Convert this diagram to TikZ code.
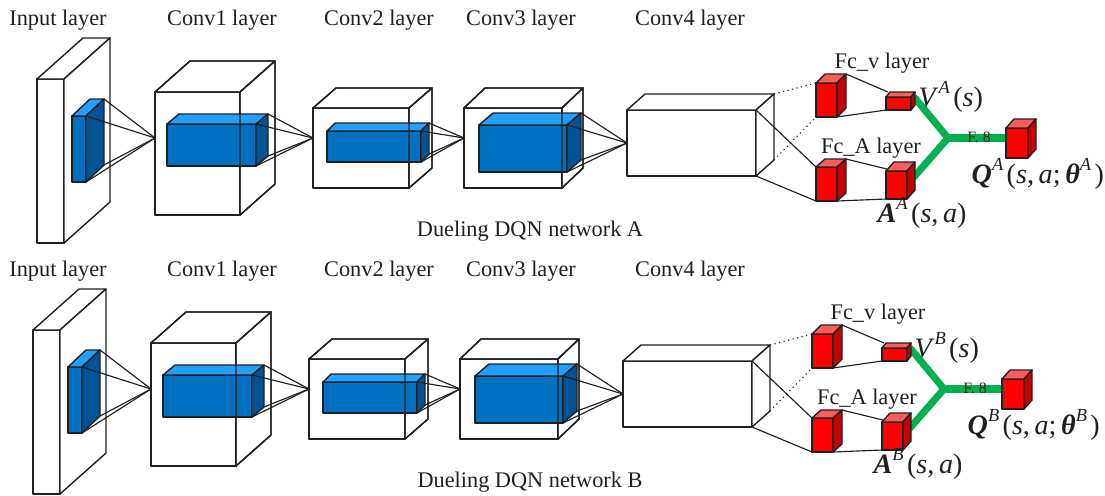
\documentclass[tikz,border=0pt]{standalone}
\usepackage{fontspec}
\setmainfont{Liberation Serif}
\usetikzlibrary{calc}
\definecolor{ink}{RGB}{35,31,32}
\definecolor{whiteF}{RGB}{255,255,255}
\definecolor{whiteT}{RGB}{255,255,255}
\definecolor{whiteS}{RGB}{255,255,255}
\definecolor{blueF}{RGB}{0,112,192}
\definecolor{blueT}{RGB}{34,160,255}
\definecolor{blueS}{RGB}{0,84,150}
\definecolor{redF}{RGB}{255,0,0}
\definecolor{redT}{RGB}{255,92,92}
\definecolor{redS}{RGB}{196,0,0}
\definecolor{fcgreen}{RGB}{0,176,80}

% box: colour, name, x, y (front top left), width, height, depth x, depth y
\newcommand{\prism}[8]{%
    \coordinate (#2-ftl) at (#3,#4);
    \coordinate (#2-ftr) at (#3+#5,#4);
    \coordinate (#2-fbl) at (#3,#4+#6);
    \coordinate (#2-fbr) at (#3+#5,#4+#6);
    \coordinate (#2-btl) at (#3+#7,#4-#8);
    \coordinate (#2-btr) at (#3+#5+#7,#4-#8);
    \coordinate (#2-bbr) at (#3+#5+#7,#4+#6-#8);
    \filldraw[fill=#1F] (#2-ftl) rectangle (#2-fbr);
    \filldraw[fill=#1T] (#2-ftl) -- (#2-btl) -- (#2-btr) -- (#2-ftr) -- cycle;
    \filldraw[fill=#1S] (#2-ftr) -- (#2-btr) -- (#2-bbr) -- (#2-fbr) -- cycle;
}
\newcommand{\prismedges}[1]{%
    \draw (#1-ftl) rectangle (#1-fbr) (#1-ftl) -- (#1-btl) -- (#1-btr) -- (#1-ftr)
          (#1-btr) -- (#1-bbr) -- (#1-fbr);
}
\newcommand{\upper}[1]{\raisebox{0.45em}{\fontsize{10.5}{10}\selectfont\itshape #1\/}\hspace{0.12em}}

\begin{document}
\begin{tikzpicture}[x=0.02cm,y=-0.02cm,line width=0.8pt,draw=ink,line join=round]
    \tikzstyle{title}=[anchor=base,inner sep=0pt,text=ink,font=\fontsize{12.7}{15}\selectfont]
    \tikzstyle{formula}=[anchor=base west,inner sep=0pt,text=ink,font=\fontsize{16}{18}\selectfont]
    \tikzstyle{kernel}=[line width=0.65pt]
    \tikzstyle{merge}=[draw=fcgreen,line width=4pt]
    \tikzstyle{tag}=[inner sep=0pt,text=ink,font=\fontsize{9}{10}\selectfont]

    \useasboundingbox (0,0) rectangle (1105,495);

    \foreach \net/\sx/\sy in {A/0/0,B/-4/251}{
        \node[title] (tin-\net) at (58,25+\sy) {Input layer};
        \node[title] (tc1-\net) at (222,25+\sy) {Conv1 layer};
        \node[title] (tc2-\net) at (379,25+\sy) {Conv2 layer};
        \node[title] (tc3-\net) at (521,25+\sy) {Conv3 layer};
        \node[title] (tc4-\net) at (690,25+\sy) {Conv4 layer};
        \ifx\net A
        \node[title] (tout-\net) at (932,25+\sy) {Output layer};
        \fi
        \node[title] (cap-\net) at (530,236+\sy) {Dueling DQN network \net};

        \begin{scope}[shift={(\sx,\sy)}]
        % convolution part
        \prism{white}{in\net}{37}{79}{27}{164}{46}{41}
        \prism{blue}{inb\net}{72}{116}{14}{66}{18}{17}
        \prism{white}{c1\net}{155}{92}{85}{123}{35}{31}
        \prism{blue}{c1b\net}{167}{124}{89}{42}{12}{10}
        \prismedges{c1\net}
        \prism{white}{c2\net}{313}{108}{96}{80}{23}{20}
        \prism{blue}{c2b\net}{327}{131}{94}{31}{8}{8}
        \prismedges{c2\net}
        \prism{white}{c3\net}{464}{108}{98}{80}{21}{20}
        \prism{blue}{c3b\net}{479}{125}{88}{47}{14}{12}
        \prismedges{c3\net}
        \prism{white}{c4\net}{627}{110}{129}{66}{18}{16}

        \coordinate (c1\net-in) at (155,138);
        \coordinate (c2\net-in) at (313,138);
        \coordinate (c3\net-in) at (464,138);
        \coordinate (c4\net-in) at (627,143);
        \foreach \corner in {ftr,btr,bbr,fbr}{
            \draw[kernel] (inb\net-\corner) -- (c1\net-in);
            \draw[kernel] (c1b\net-\corner) -- (c2\net-in);
            \draw[kernel] (c2b\net-\corner) -- (c3\net-in);
            \draw[kernel] (c3b\net-\corner) -- (c4\net-in);
        }

        % dueling heads
        \draw[kernel,dotted] (c4\net-btr) -- (816,83);
        \draw[kernel,dotted] (c4\net-bbr) -- (816,117);
        \draw[kernel] (c4\net-ftr) -- (816,167);
        \draw[kernel] (c4\net-fbr) -- (816,201);
        \prism{red}{fv1\net}{816}{83}{21}{34}{9}{9}
        \prism{red}{fa1\net}{816}{167}{21}{34}{9}{8}
        \draw[kernel] (fv1\net-btr) -- (888,92);
        \draw[kernel] (fv1\net-fbr) -- (886,110);
        \draw[kernel] (fa1\net-btr) -- (887,169);
        \draw[kernel] (fa1\net-fbr) -- (886,199);

        \coordinate (jn\net) at (948,138);
        \draw[merge] (914,97) -- (jn\net) -- (913,178);
        \draw[merge] (jn\net) -- (1008,138);
        \node[tag] (f8-\net) at (979,137) {F. 8};

        \prism{red}{fv2\net}{886}{97}{25}{13}{4}{5}
        \prism{red}{fa2\net}{886}{171}{21}{28}{8}{9}
        \prism{red}{q\net}{1006}{128}{22}{30}{8}{9}

        \node[title] (tfv-\net) at (882,68) {Fc\_v layer};
        \node[title] (tfa-\net) at (871,153) {Fc\_A layer};
        \node[formula] (v-\net) at (918,106) {\textit{V}\upper{\net}(\textit{s})};
        \node[formula] (a-\net) at (877,222) {\textbf{\textit{A}}\upper{\net}(\textit{s},\,\textit{a})};
        \node[formula] (qv-\net) at (971,183) {\textbf{\textit{Q}}\upper{\net}(\textit{s},\,\textit{a};\,\textbf{\textit{θ}}\upper{\net})};
        \end{scope}
    }
\end{tikzpicture}
\end{document}
